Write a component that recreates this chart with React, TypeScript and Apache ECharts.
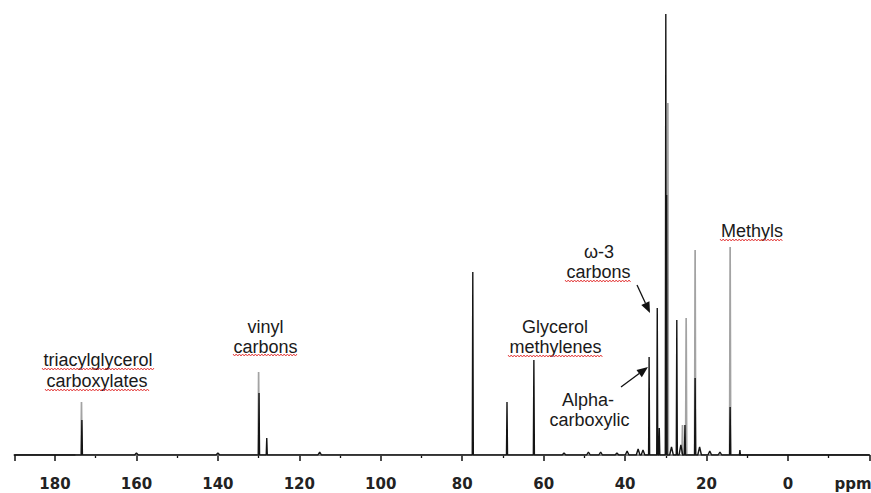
import React, { useEffect, useRef } from "react";
import * as echarts from "echarts";

// Chemical shift axis (ppm) tick settings
const axisMin = -20;
const axisMax = 190;
const tickStep = 20;
const labelMin = 0;
const labelMax = 180;

// Black spectrum: sharp peaks (ppm, height)
const blackPeakPpm = [173.4, 129.9, 128.0, 77.4, 69.0, 62.4, 34.1, 32.1, 31.6, 30.0, 29.8, 27.3, 25.3, 22.8, 14.2, 11.8];
const blackPeakHeight = [35, 62, 17, 183, 53, 95, 98, 147, 27, 441, 260, 135, 30, 77, 48, 5];

// Black spectrum: small broad baseline bumps
const bumpPpm = [160, 140, 115, 55, 49, 46, 42, 39.5, 36.8, 35.6, 28.6, 26.3, 21.7, 19.2, 16.7];
const bumpHeight = [2, 2, 3, 2, 3, 3, 2, 4, 6, 5, 8, 10, 8, 4, 3];

// Gray (overlaid) spectrum peaks
const grayPeakPpm = [173.5, 130.0, 29.5, 25.9, 25.0, 22.8, 14.2];
const grayPeakHeight = [53, 83, 352, 30, 137, 205, 208];

type Pt = [number, number];

function buildSpectrum(peaks: { p: number; h: number; w: number }[], from: number, to: number): Pt[] {
  const sorted = [...peaks].sort((a, b) => b.p - a.p);
  const out: Pt[] = [[from, 0]];
  for (const k of sorted) {
    out.push([k.p + k.w, 0]);
    out.push([k.p, k.h]);
    out.push([k.p - k.w, 0]);
  }
  out.push([to, 0]);
  return out;
}

function squiggle(x1: number, x2: number, y: number) {
  const pts: number[][] = [];
  let up = true;
  for (let x = x1; x <= x2; x += 1.6) {
    pts.push([x, y + (up ? -1 : 1)]);
    up = !up;
  }
  return {
    type: "polyline",
    shape: { points: pts },
    style: { stroke: "#e23030", lineWidth: 0.9, fill: null },
    silent: true,
  };
}

function arrow(x1: number, y1: number, x2: number, y2: number) {
  const dx = x2 - x1;
  const dy = y2 - y1;
  const len = Math.sqrt(dx * dx + dy * dy);
  const ux = dx / len;
  const uy = dy / len;
  const headLen = 11;
  const headHalf = 4.5;
  const bx = x2 - ux * headLen;
  const by = y2 - uy * headLen;
  return [
    {
      type: "line",
      shape: { x1, y1, x2: bx, y2: by },
      style: { stroke: "#111", lineWidth: 1.3 },
      silent: true,
    },
    {
      type: "polygon",
      shape: {
        points: [
          [x2, y2],
          [bx - uy * headHalf, by + ux * headHalf],
          [bx + uy * headHalf, by - ux * headHalf],
        ],
      },
      style: { fill: "#111" },
      silent: true,
    },
  ];
}

function label(text: string, x: number, y: number) {
  return {
    type: "text",
    x,
    y,
    style: {
      text,
      fill: "#1a1a1a",
      font: '18px "Liberation Sans", Arial, sans-serif',
      textAlign: "center",
      textVerticalAlign: "middle",
    },
    silent: true,
  };
}

export default function App() {
  const ref = useRef<HTMLDivElement>(null);

  useEffect(() => {
    if (!ref.current) return;
    const chart = echarts.init(ref.current, undefined, { renderer: "svg" });

    const blackPeaks = blackPeakPpm
      .map((p, i) => ({ p, h: blackPeakHeight[i], w: 0.13 }))
      .concat(bumpPpm.map((p, i) => ({ p, h: bumpHeight[i], w: 0.45 })));
    const grayPeaks = grayPeakPpm.map((p, i) => ({ p, h: grayPeakHeight[i], w: 0.14 }));

    const blackData = buildSpectrum(blackPeaks, axisMax, axisMin);
    const grayData = buildSpectrum(grayPeaks, 175, 12);

    const graphics: any[] = [
      label("triacylglycerol", 98, 360),
      label("carboxylates", 97, 381),
      squiggle(42, 154, 369),
      squiggle(45, 149, 390),
      label("vinyl", 265.5, 327),
      label("carbons", 265.5, 347),
      squiggle(233, 298, 355),
      label("Glycerol", 555, 327),
      label("methylenes", 555.5, 347),
      squiggle(508, 603, 356),
      label("Alpha-", 588, 400),
      label("carboxylic", 589.5, 420),
      label("ω-3", 599, 252),
      label("carbons", 598.5, 272),
      squiggle(565, 632, 281),
      label("Methyls", 752, 231),
      squiggle(720, 784, 240),
      ...arrow(637, 285, 650, 313),
      ...arrow(621, 387, 648, 367),
      {
        type: "text",
        x: 853,
        y: 484,
        style: {
          text: "ppm",
          fill: "#222",
          font: 'bold 15px "DejaVu Sans", sans-serif',
          textAlign: "center",
          textVerticalAlign: "middle",
        },
        silent: true,
      },
    ];

    chart.setOption({
      animation: false,
      backgroundColor: "#ffffff",
      grid: {
        left: 14.3,
        right: 1.6,
        top: 5,
        bottom: 38,
        containLabel: false,
        outerBoundsMode: "none",
      },
      xAxis: {
        type: "value",
        inverse: true,
        min: axisMin,
        max: axisMax,
        interval: tickStep,
        offset: 11,
        axisLine: { show: true, lineStyle: { color: "#111", width: 1.6 } },
        axisTick: { show: true, length: 6, lineStyle: { color: "#111", width: 1.5 } },
        minorTick: { show: true, splitNumber: 2, length: 3, lineStyle: { color: "#111", width: 1.3 } },
        splitLine: { show: false },
        minorSplitLine: { show: false },
        axisLabel: {
          formatter: (v: number) => (v < labelMin || v > labelMax ? "" : String(v)),
          fontWeight: "bold",
          fontSize: 15,
          fontFamily: '"DejaVu Sans", sans-serif',
          color: "#222",
          margin: 10,
        },
      },
      yAxis: {
        type: "value",
        min: 0,
        max: 450,
        show: false,
        splitLine: { show: false },
      },
      series: [
        {
          type: "line",
          data: grayData,
          symbol: "none",
          showSymbol: false,
          lineStyle: { color: "#a3a3a3", width: 1.7 },
          silent: true,
          z: 2,
        },
        {
          type: "line",
          data: blackData,
          symbol: "none",
          showSymbol: false,
          lineStyle: { color: "#141414", width: 1.4 },
          silent: true,
          z: 3,
        },
      ],
      graphic: graphics,
    });

    return () => chart.dispose();
  }, []);

  return (
    <div
      ref={ref}
      style={{ position: "absolute", left: 0, top: 0, width: 871, height: 493 }}
    />
  );
}
